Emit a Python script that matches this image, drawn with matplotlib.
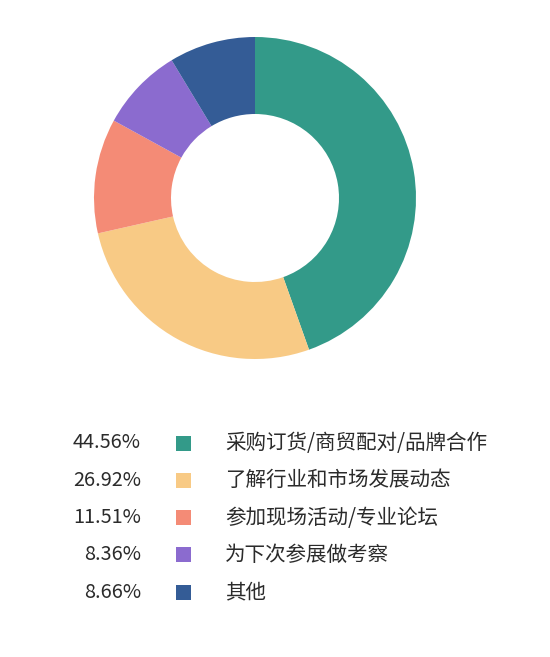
import matplotlib.pyplot as plt
from matplotlib.patches import Rectangle

plt.rcParams["font.family"] = ["Noto Sans CJK SC", "DejaVu Sans"]

# data
categories = ["采购订货/商贸配对/品牌合作", "了解行业和市场发展动态", "参加现场活动/专业论坛", "为下次参展做考察", "其他"]
percents = [44.56, 26.92, 11.51, 8.36, 8.66]
colors = ["#339a89", "#f8ca85", "#f48b76", "#8b6bcf", "#345c96"]

W, H = 550, 657
fig = plt.figure(figsize=(W / 100, H / 100), dpi=100)
ax = fig.add_axes([0, 0, 1, 1])

# donut
cx, cy, r_out, r_in = 255, H - 198, 161, 84
ax.pie(percents, colors=colors, startangle=90, counterclock=False,
       center=(cx, cy), radius=r_out, frame=True,
       wedgeprops=dict(width=r_out - r_in, linewidth=0))
ax.set_xlim(0, W)
ax.set_ylim(0, H)
ax.set_aspect("equal")
ax.axis("off")

# legend rows
y0, dy = H - 443, 37.3
for i, (cat, p, c) in enumerate(zip(categories, percents, colors)):
    y = y0 - i * dy
    ax.text(141, y, f"{p:.2f}%", ha="right", va="center", fontsize=14.3, color="#2b2b2b")
    ax.add_patch(Rectangle((176, y - 7.5), 15, 15, color=c, linewidth=0))
    ax.text(225, y, cat, ha="left", va="center", fontsize=14.8, color="#2b2b2b")

fig.savefig("out.png", dpi=100, facecolor="white")
